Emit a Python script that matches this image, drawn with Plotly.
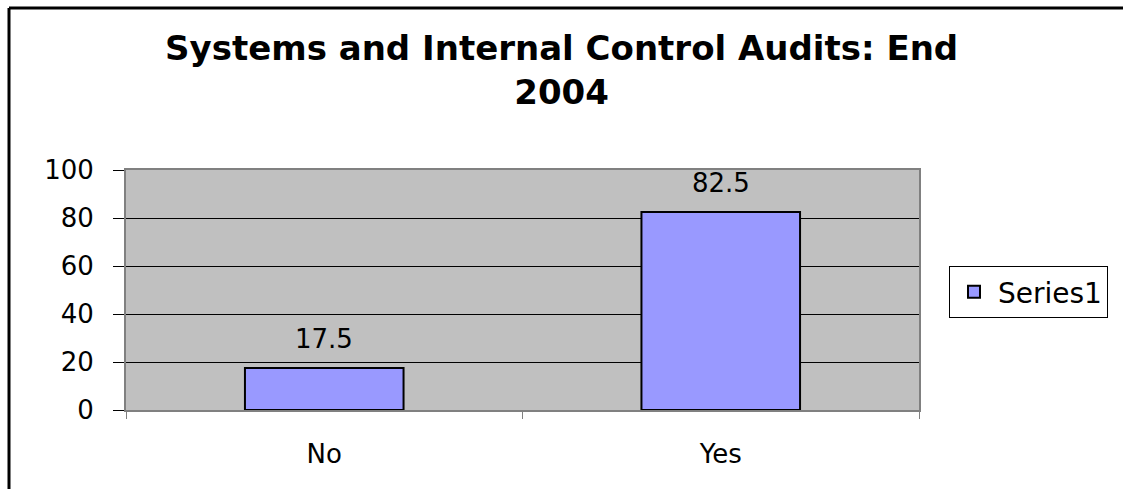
import plotly.graph_objects as go

categories = ["No", "Yes"]
values = [17.5, 82.5]
series_name = "Series1"
title_lines = ["Systems and Internal Control Audits: End", "2004"]
y_ticks = [0, 20, 40, 60, 80, 100]

W, H = 1123, 489
L, R, T, B = 126, 919, 170, 410
FONT = "DejaVu Sans, Liberation Sans, Arial"


def px_x(p):
    return (p - L) / (R - L)


def px_y(p):
    return (B - p) / (B - T)


fig = go.Figure()
fig.add_trace(go.Bar(
    x=categories, y=values, name=series_name,
    marker=dict(color="#9999FF", line=dict(color="black", width=2)),
    showlegend=True,
))

for c, v in zip(categories, values):
    fig.add_annotation(x=c, y=v, xref="x", yref="y", text=str(v), showarrow=False,
                       yanchor="bottom", yshift=12,
                       font=dict(family=FONT, size=26, color="black"))

fig.add_annotation(x=px_x(561), y=px_y(26), xref="paper", yref="paper",
                   text="<b>" + "<br>".join(title_lines) + "</b>", showarrow=False,
                   xanchor="center", yanchor="top", align="center",
                   font=dict(family=FONT, size=34, color="black"))

fig.update_layout(
    width=W, height=H,
    margin=dict(l=L, r=W - R, t=T, b=H - B, pad=0),
    paper_bgcolor="white", plot_bgcolor="#C0C0C0",
    bargap=0.6,
    font=dict(family=FONT, size=26, color="black"),
    legend=dict(x=px_x(949), y=px_y(266), xanchor="left", yanchor="top",
                bordercolor="black", borderwidth=1, bgcolor="white",
                font=dict(family=FONT, size=28), itemwidth=38),
    xaxis=dict(showline=True, linecolor="#808080", linewidth=2, mirror=True,
               ticks="outside", tickson="boundaries", ticklen=7, tickcolor="#808080",
               showgrid=False, ticklabelstandoff=20),
    yaxis=dict(range=[0, 100], tickvals=y_ticks, showline=True, linecolor="#808080",
               linewidth=2, mirror=True, ticks="outside", ticklen=11, tickcolor="black",
               showgrid=True, gridcolor="black", gridwidth=1, zeroline=False,
               ticklabelstandoff=14),
    shapes=[
        dict(type="line", xref="paper", yref="paper",
             x0=px_x(9), x1=px_x(1130), y0=px_y(8), y1=px_y(8),
             line=dict(color="black", width=3)),
        dict(type="line", xref="paper", yref="paper",
             x0=px_x(9), x1=px_x(9), y0=px_y(8), y1=px_y(500),
             line=dict(color="black", width=3)),
    ],
)

fig.write_html("out.html")
